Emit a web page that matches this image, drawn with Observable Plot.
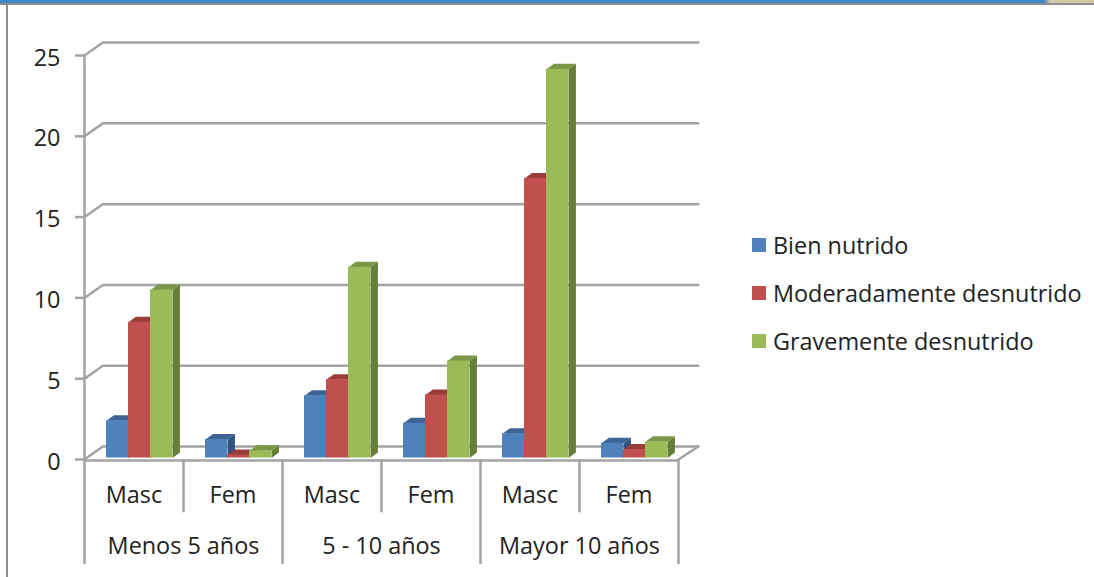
<!DOCTYPE html>
<html lang="es">
<head>
<meta charset="utf-8">
<script src="https://cdn.jsdelivr.net/npm/d3@7"></script>
<script src="https://cdn.jsdelivr.net/npm/@observablehq/plot@0.6"></script>
<style>
html,body{margin:0;padding:0;background:#fff;width:1094px;height:577px;overflow:hidden;position:relative;font-family:"Open Sans",sans-serif;color:#222}
#bar{position:absolute;left:0;top:0;width:1094px;height:3px;background:linear-gradient(to right,#3f87c8 0,#3f87c8 1044px,#cfcaa8 1050px,#d8c8a4 1094px)}
#rule{position:absolute;left:0;top:3px;width:1094px;height:2px;background:#8f8f8f}
#side{position:absolute;left:6px;top:3px;width:2px;height:574px;background:#8f8f8f}
#chart{position:absolute;left:0;top:0}
#legend{position:absolute;left:752px;top:221px;font-size:23.4px;line-height:48px;white-space:nowrap}
#legend div{display:flex;align-items:center;height:48px}
#legend i{display:inline-block;width:14px;height:14px;margin-right:7px}
</style>
</head>
<body>
<div id="chart"></div>
<div id="bar"></div><div id="rule"></div><div id="side"></div>
<div id="legend"></div>
<script>
const subLabels = ["Masc","Fem","Masc","Fem","Masc","Fem"];
const groupLabels = ["Menos 5 años","5 - 10 años","Mayor 10 años"];
const seriesNames = ["Bien nutrido","Moderadamente desnutrido","Gravemente desnutrido"];
const bienNutrido = [2.3,1.15,3.85,2.15,1.5,0.92];
const moderado = [8.4,0.18,4.85,3.9,17.3,0.52];
const grave = [10.4,0.45,11.8,6.0,24.05,1.0];
const yTicks = [0,5,10,15,20,25];
const frontColors = ["#4f81bd","#c0504d","#9bbb59"];
const topColors = ["#3c6494","#9a3d3a","#7c9647"];
const sideColors = ["#305380","#7f302e","#667f38"];
const seriesValues = [bienNutrido,moderado,grave];

// oblique projection, in data units
const wallX = 0.185, wallY = 0.8, wallEnd = 6.2;
const barDX = 0.075, barDY = 0.34;
const gap = 22/99, barW = 22/99;
const labelY1 = -2.23, labelY2 = -5.4, sepY1 = -3.3, sepY2 = -6.5;
const grey = "#a3a3a3", gw = 2.5, ink = "#222", fs = 23.4;

const grid = yTicks.flatMap(t => [
  {t, x:0, y:t},
  {t, x:wallX, y:t+wallY},
  {t, x:wallEnd, y:t+wallY}
]);

const marks = [
  Plot.line(grid,{x:"x",y:"y",z:"t",stroke:grey,strokeWidth:gw}),
  Plot.line([{x:6,y:0},{x:wallEnd,y:wallY}],{x:"x",y:"y",stroke:grey,strokeWidth:gw}),
  Plot.ruleY([0],{x1:0,x2:6,stroke:grey,strokeWidth:gw,dy:1}),
  Plot.ruleX([0],{y1:-6.5,y2:25,stroke:grey,strokeWidth:gw}),
  Plot.ruleX([2,4,6],{y1:sepY2,y2:0,stroke:grey,strokeWidth:gw}),
  Plot.ruleX([1,3,5],{y1:sepY1,y2:0,stroke:grey,strokeWidth:gw}),
  Plot.ruleY(yTicks,{x1:-9/99,x2:0,stroke:grey,strokeWidth:gw}),
  Plot.axisY({ticks:yTicks,tickSize:0,tickPadding:24,dy:2.5,fontSize:fs,fill:ink,label:null,fontFamily:"Open Sans"})
];

seriesValues.forEach((vals,s) => {
  const bars = vals.map((v,i) => ({i,v,x1:i+gap+s*barW,x2:i+gap+(s+1)*barW}));
  const side = bars.flatMap(b => [
    {i:b.i,x:b.x2,y:0},{i:b.i,x:b.x2+barDX,y:barDY},
    {i:b.i,x:b.x2+barDX,y:b.v+barDY},{i:b.i,x:b.x2,y:b.v}
  ]);
  const top = bars.flatMap(b => [
    {i:b.i,x:b.x1,y:b.v},{i:b.i,x:b.x2,y:b.v},
    {i:b.i,x:b.x2+barDX,y:b.v+barDY},{i:b.i,x:b.x1+barDX,y:b.v+barDY}
  ]);
  marks.push(
    Plot.line(side,{x:"x",y:"y",z:"i",fill:sideColors[s],stroke:"none",dy:-1.5}),
    Plot.line(top,{x:"x",y:"y",z:"i",fill:topColors[s],stroke:"none",dy:-1.5}),
    Plot.rect(bars,{x1:"x1",x2:"x2",y1:0,y2:"v",fill:frontColors[s],dy:-1.5})
  );
});

marks.push(
  Plot.text(subLabels,{x:(d,i)=>i+0.5,y:()=>labelY1,text:d=>d,fontSize:fs,fill:ink,fontFamily:"Open Sans"}),
  Plot.text(groupLabels,{x:(d,i)=>2*i+1,y:()=>labelY2,text:d=>d,fontSize:fs,fill:ink,fontFamily:"Open Sans"})
);

const svg = Plot.plot({
  width:1094,height:577,
  marginLeft:84,marginRight:416,marginTop:55,marginBottom:118,
  x:{domain:[0,6],axis:null},
  y:{domain:[0,25],axis:null},
  marks
});
svg.style.background="transparent";
document.getElementById("chart").append(svg);

const lg = document.getElementById("legend");
seriesNames.forEach((n,i)=>{
  const row=document.createElement("div");
  const sw=document.createElement("i");
  sw.style.background=frontColors[i];
  row.append(sw,document.createTextNode(n));
  lg.append(row);
});
</script>
</body>
</html>
